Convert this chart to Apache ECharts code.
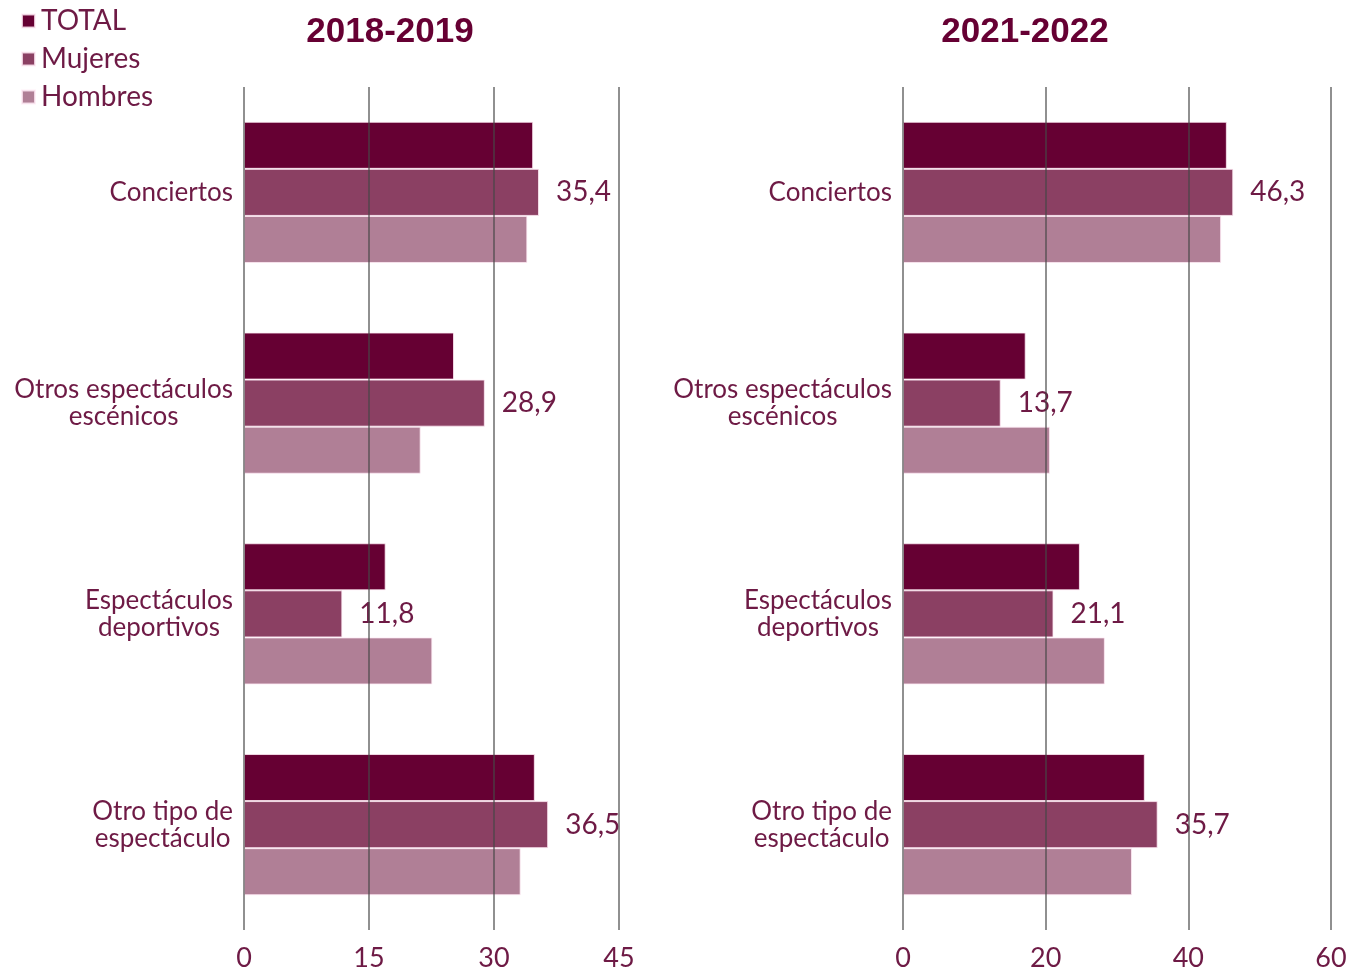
<!DOCTYPE html>
<html>
<head>
<meta charset="utf-8">
<script src="https://cdn.jsdelivr.net/npm/echarts@6/dist/echarts.min.js"></script>
<style>
html,body{margin:0;padding:0;background:#fff;}
#chart{width:1351px;height:972px;}
</style>
</head>
<body>
<div id="chart"></div>
<script>
var categories = ['Conciertos', 'Otros espectáculos\nescénicos', 'Espectáculos\ndeportivos', 'Otro tipo de\nespectáculo'];
var seriesNames = ['TOTAL', 'Mujeres', 'Hombres'];
var periods = ['2018-2019', '2021-2022'];

var total2018 = [34.7, 25.2, 17.0, 34.9];
var mujeres2018 = [35.4, 28.9, 11.8, 36.5];
var hombres2018 = [34.0, 21.2, 22.6, 33.2];

var total2021 = [45.4, 17.2, 24.8, 33.9];
var mujeres2021 = [46.3, 13.7, 21.1, 35.7];
var hombres2021 = [44.6, 20.6, 28.3, 32.1];

var xTicks2018 = [0, 15, 30, 45];
var xTicks2021 = [0, 20, 40, 60];

var colors = ['#660033', '#8B4063', '#B07F96'];
var textColor = '#6E1A45';
var font = 'Lato';

function fmt(v){ return String(v).replace('.', ','); }

function xAxis(idx, ticks){
  return {
    type: 'value', gridIndex: idx,
    min: ticks[0], max: ticks[ticks.length-1], interval: ticks[1]-ticks[0],
    z: 5,
    axisLine: {show: false}, axisTick: {show: false},
    splitLine: {show: true, lineStyle: {color: 'rgba(70,70,70,0.6)', width: 2}},
    axisLabel: {color: textColor, fontFamily: font, fontSize: 27, margin: 15,
      formatter: function(v){ return fmt(v); }}
  };
}
function yAxis(idx){
  return {
    type: 'category', gridIndex: idx, data: categories, inverse: true,
    axisLine: {show: false}, axisTick: {show: false}, splitLine: {show: false},
    axisLabel: {margin: 11, align: 'right',
      formatter: function(v){
        return v.split('\n').map(function(s){ return '{a|' + s + '}'; }).join('\n');
      },
      rich: {a: {color: textColor, fontFamily: font, fontSize: 26, lineHeight: 27, align: 'center'}}
    }
  };
}
function bars(idx, arrs){
  return arrs.map(function(arr, i){
    return {
      name: seriesNames[i], type: 'bar', xAxisIndex: idx, yAxisIndex: idx,
      data: arr, barGap: 0, barCategoryGap: '33%',
      itemStyle: {color: colors[i], borderColor: 'rgba(255,235,245,0.8)', borderWidth: 1},
      label: i === 1 ? {show: true, position: 'right', distance: 17, color: textColor,
        fontFamily: font, fontSize: 28, formatter: function(p){ return fmt(p.value); }} : {show: false},
      emphasis: {disabled: true}
    };
  });
}

var chart = echarts.init(document.getElementById('chart'), null, {renderer: 'canvas'});
chart.setOption({
  animation: false,
  textStyle: {fontFamily: font},
  title: [
    {text: periods[0], left: 385, top: 10, textAlign: 'center',
      textStyle: {color: '#660033', fontFamily: 'Liberation Sans', fontWeight: 'bold', fontSize: 35}},
    {text: periods[1], left: 1020, top: 10, textAlign: 'center',
      textStyle: {color: '#660033', fontFamily: 'Liberation Sans', fontWeight: 'bold', fontSize: 35}}
  ],
  legend: {
    orient: 'vertical', left: 21, top: 7, padding: 0, itemGap: 10, itemWidth: 13, itemHeight: 13,
    icon: 'rect', data: seriesNames,
    textStyle: {color: textColor, fontFamily: font, fontSize: 28, padding: [0,0,0,1]}
  },
  grid: [
    {left: 244, top: 87, width: 375, height: 843},
    {left: 903, top: 87, width: 428, height: 843}
  ],
  xAxis: [xAxis(0, xTicks2018), xAxis(1, xTicks2021)],
  yAxis: [yAxis(0), yAxis(1)],
  series: bars(0, [total2018, mujeres2018, hombres2018]).concat(bars(1, [total2021, mujeres2021, hombres2021]))
});
</script>
</body>
</html>
